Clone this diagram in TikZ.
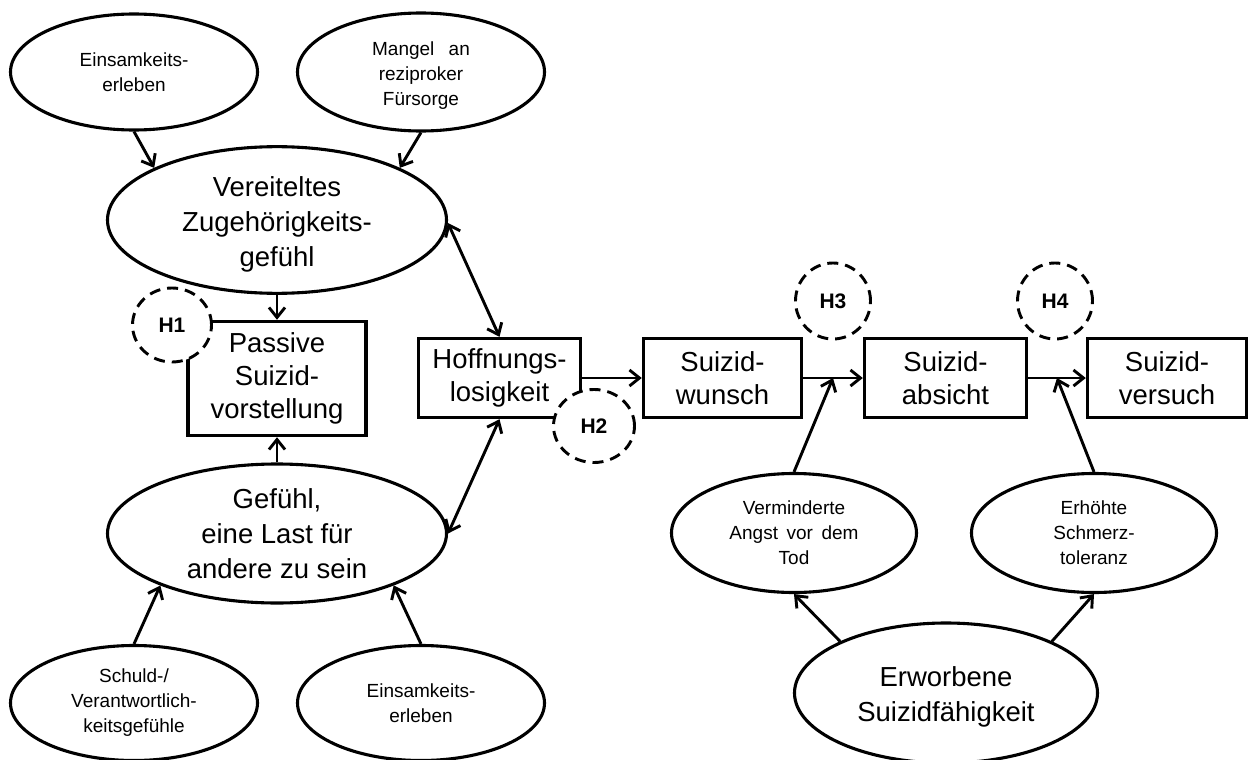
\documentclass[tikz,border=0pt]{standalone}
\usepackage{fontspec}
\setmainfont{Liberation Sans}
\usetikzlibrary{shapes.geometric,arrows.meta,calc}

\begin{document}
\begin{tikzpicture}[x=1pt,y=-1pt,
  big/.style={font=\fontsize{27.5}{35}\selectfont, align=center},
  small/.style={font=\fontsize{19}{25}\selectfont, align=center},
  oval/.style={ellipse, draw, line width=3.1pt, inner sep=0pt},
  boxnode/.style={rectangle, draw, line width=3.4pt, inner sep=2pt, align=center,
    font=\fontsize{27.5}{33}\selectfont},
  hyp/.style={ellipse, draw, dash pattern=on 11pt off 7pt, line width=2.9pt,
    fill=white, inner sep=0pt, font=\fontsize{21}{24}\selectfont\bfseries},
  tip/.tip={Straight Barb[length=10pt,width=16pt]},
  arr/.style={-tip, line width=2.9pt},
  darr/.style={tip-tip, line width=2.9pt}]

\useasboundingbox (0,0) rectangle (1248,760);

% interpersonal constructs (left)
\node[oval, small, minimum width=247pt, minimum height=116pt] (ein1) at (134,72) {Einsamkeits-\\erleben};
\node[oval, small, minimum width=247pt, minimum height=118pt] (mangel) at (421,72) {\rule{0pt}{21.5pt}Mangel\hspace{.75em}an\\reziproker\\Fürsorge};
\node[oval, big, minimum width=339pt, minimum height=139pt] (ver) at (277,220) {\rule{0pt}{28pt}Vereiteltes\\Zugehörigkeits-\\gefühl};
\node[boxnode, minimum width=178pt, minimum height=114pt] (pass) at (277,378.5) {Passive\\Suizid-\\vorstellung};
\node[oval, big, minimum width=339pt, minimum height=139pt] (gef) at (277,533.5) {Gefühl,\\eine Last für\\andere zu sein};
\node[oval, small, minimum width=247pt, minimum height=115pt] (schuld) at (134,703) {Schuld-/\\Verantwortlich-\\keitsgefühle};
\node[oval, small, minimum width=247pt, minimum height=115pt] (ein2) at (421,703) {Einsamkeits-\\erleben};

% main chain
\node[boxnode, minimum width=162pt, minimum height=79pt] (hoff) at (499.5,378) {Hoffnungs-\\losigkeit};
\node[boxnode, minimum width=158pt, minimum height=79pt] (wunsch) at (722.5,378) {Suizid-\\wunsch};
\node[boxnode, minimum width=162pt, minimum height=79pt] (absicht) at (945.5,378) {Suizid-\\absicht};
\node[boxnode, minimum width=159pt, minimum height=79pt] (versuch) at (1167,378) {Suizid-\\versuch};

% capability (right)
\node[oval, small, minimum width=245pt, minimum height=119pt] (verm) at (794,533) {Verminderte\\Angst\hspace{.45em}vor\hspace{.45em}dem\\Tod};
\node[oval, small, minimum width=245pt, minimum height=119pt] (erh) at (1094,533) {Erhöhte\\Schmerz-\\toleranz};
\node[oval, big, minimum width=303pt, minimum height=140pt] (erw) at (946,693) {\rule{0pt}{27pt}Erworbene\\Suizidfähigkeit};

\coordinate (j3) at ($(wunsch.east)!0.5!(absicht.west)$);
\coordinate (j4) at ($(absicht.east)!0.5!(versuch.west)$);

% connectors
\draw[arr] (ein1.south) -- (ver.157);
\draw[arr] (mangel.south) -- (ver.23);
\draw[arr] (ver.south) -- (pass.north);
\draw[arr] (gef.north) -- (pass.south);
\draw[arr] (schuld.north) -- (gef.204);
\draw[arr] (ein2.north) -- (gef.-24);
\draw[darr] (ver.-1) -- (hoff.north);
\draw[darr] (gef.east) -- (hoff.south);
\draw[arr] (hoff.east) -- (wunsch.west);
\draw[arr] (wunsch.east) -- (absicht.west);
\draw[arr] (absicht.east) -- (versuch.west);
\draw[arr] (verm.north) -- (j3);
\draw[arr] (erh.north) -- (j4);
\draw[arr] (erw.154) -- (verm.south);
\draw[arr] (erw.26) -- (erh.south);

% hypothesis markers
\node[hyp, minimum width=79pt, minimum height=74pt] (h1) at (172,325) {H1};
\node[hyp, minimum width=81pt, minimum height=73pt] (h2) at (594,426) {H2};
\node[hyp, minimum width=75pt, minimum height=76pt] (h3) at (833,301) {H3};
\node[hyp, minimum width=75pt, minimum height=76pt] (h4) at (1055,301) {H4};
\end{tikzpicture}
\end{document}
